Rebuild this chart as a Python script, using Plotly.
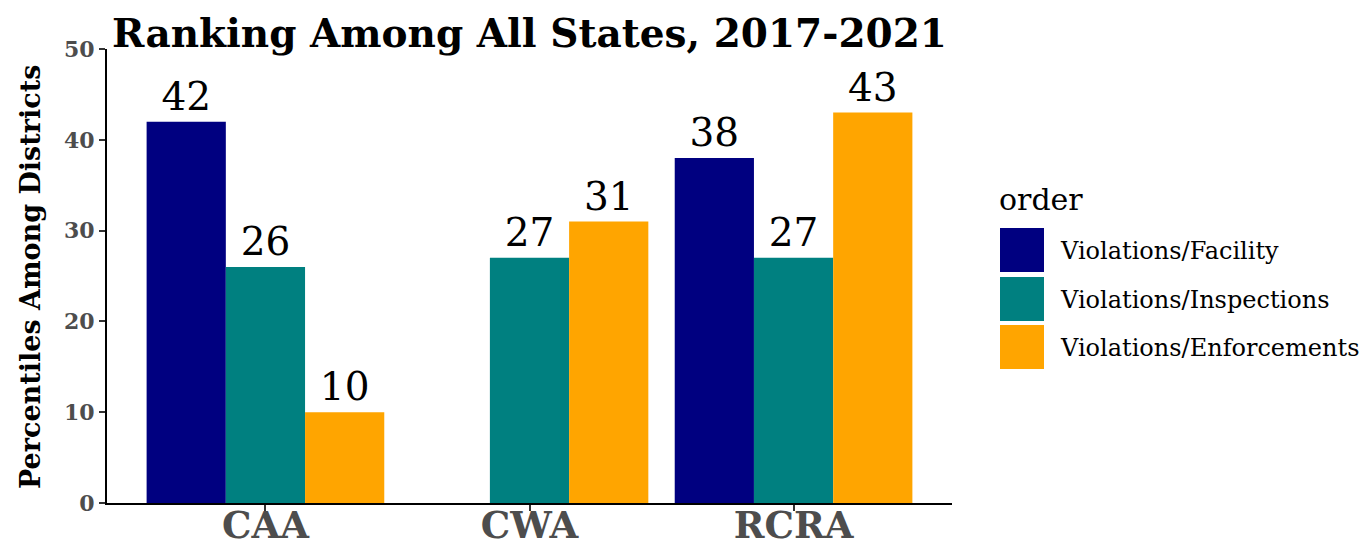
import plotly.graph_objects as go

categories = ["CAA", "CWA", "RCRA"]
series_names = ["Violations/Facility", "Violations/Inspections", "Violations/Enforcements"]
facility = [42, None, 38]
inspections = [26, 27, 27]
enforcements = [10, 31, 43]
series_values = [facility, inspections, enforcements]
colors = ["#000080", "#008080", "#FFA500"]
y_ticks = [0, 10, 20, 30, 40, 50]

# page body has an 8px margin; figure sized so it fills the window
OFF = 8
W, H = 1369 - OFF, 546 - OFF
ML, MT = 107 - OFF, 49 - OFF
PW, PH = 845, 454
MR = W - ML - PW
MB = H - MT - PH
SERIF = "DejaVu Serif"

fig = go.Figure()
for name, vals, col in zip(series_names, series_values, colors):
    fig.add_trace(go.Bar(
        x=categories, y=vals, name=name,
        marker=dict(color=col, line=dict(width=0)),
        text=[("" if v is None else str(v)) for v in vals],
        textposition="outside", constraintext="none", cliponaxis=False,
        textfont=dict(family=SERIF, size=39, color="black"),
        showlegend=False,
    ))

def px_x(p):
    return (p - OFF - ML) / PW

def px_y(p):
    return (H - MB - (p - OFF)) / PH

shapes = []
annotations = []
# y-axis title
annotations.append(dict(xref="paper", yref="paper", x=px_x(30), y=px_y(277),
                        text="<b>Percentiles Among Districts</b>", textangle=-90,
                        showarrow=False, xanchor="center", yanchor="middle",
                        font=dict(family=SERIF, size=27, color="black")))
# legend
annotations.append(dict(xref="paper", yref="paper", x=px_x(997), y=px_y(199),
                        text="order", showarrow=False, xanchor="left", yanchor="middle",
                        font=dict(family=SERIF, size=30, color="black")))
row_top = [228, 277, 325]
for i, (name, col) in enumerate(zip(series_names, colors)):
    t = row_top[i]
    shapes.append(dict(type="rect", xref="paper", yref="paper",
                       x0=px_x(1000), x1=px_x(1044), y0=px_y(t), y1=px_y(t + 44),
                       fillcolor=col, line=dict(width=0)))
    annotations.append(dict(xref="paper", yref="paper", x=px_x(1058), y=px_y(t + 23),
                            text=name, showarrow=False, xanchor="left", yanchor="middle",
                            font=dict(family=SERIF, size=24, color="black")))

fig.update_layout(
    width=W, height=H,
    margin=dict(l=ML, r=MR, t=MT, b=MB, autoexpand=False),
    paper_bgcolor="white", plot_bgcolor="white",
    barmode="group", bargap=0.1, bargroupgap=0,
    showlegend=False,
    title=dict(text="<b>Ranking Among All States, 2017-2021</b>",
               x=0.5, xref="paper", xanchor="center",
               y=1 - 12 / H, yref="container", yanchor="top",
               font=dict(family=SERIF, size=39, color="black")),
    font=dict(family=SERIF),
    shapes=shapes, annotations=annotations,
)
fig.update_xaxes(
    range=[-0.6, 2.6], showgrid=False, showline=True, linecolor="black", linewidth=2,
    ticks="outside", ticklen=6, tickwidth=1.5, tickcolor="#333333", automargin=False,
    ticklabelstandoff=-17,
    tickfont=dict(family=SERIF, size=37, color="#4D4D4D", weight="bold"),
    zeroline=False,
)
fig.update_yaxes(
    range=[0, 50], tickvals=y_ticks, showgrid=False, showline=True, linecolor="black",
    linewidth=2, ticks="outside", ticklen=6, tickwidth=1.5, tickcolor="#333333",
    tickfont=dict(family=SERIF, size=22, color="#4D4D4D", weight="bold"),
    zeroline=False, automargin=False,
)

fig.write_html("out.html")
